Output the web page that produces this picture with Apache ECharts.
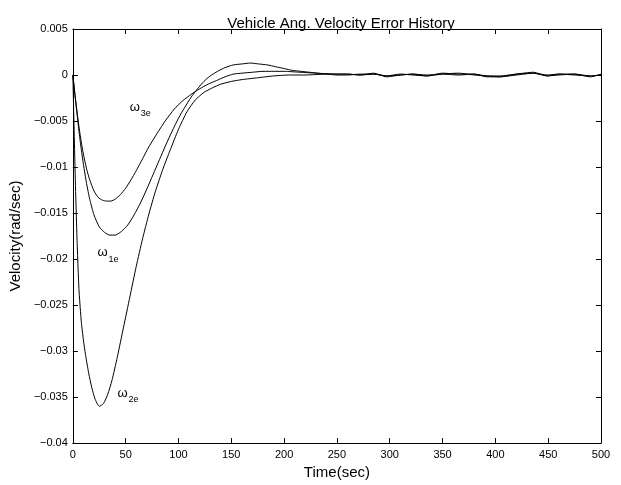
<!DOCTYPE html>
<html>
<head>
<meta charset="utf-8">
<script src="https://cdn.jsdelivr.net/npm/echarts@6/dist/echarts.min.js"></script>
<style>
html,body{margin:0;padding:0;background:#fff;}
#c{width:621px;height:485px;}
</style>
</head>
<body>
<div id="c"></div>
<script>
// ---- data ----
const titleText = 'Vehicle Ang. Velocity Error History';
const xName = 'Time(sec)';
const yName = 'Velocity(rad/sec)';

// omega_1e
const t1 = [0,2,4,6,8,10,13,16,20,25,30,35,40,46,52,58,64,70,76,82,88,94,100,106,112,118,124,130,137,144,152,160,168,176,184,192,200,208,216,224,232,240,250];
const w1 = [0,-0.0022,-0.0043,-0.0063,-0.0081,-0.0097,-0.0118,-0.0135,-0.0152,-0.0165,-0.0171,-0.0174,-0.0174,-0.0170,-0.0163,-0.0152,-0.0139,-0.0124,-0.0108,-0.0092,-0.0076,-0.0061,-0.0047,-0.0035,-0.0024,-0.0015,-0.0007,-0.0001,0.0004,0.0008,0.0011,0.0012,0.0013,0.0012,0.0011,0.0009,0.0007,0.0005,0.0004,0.0003,0.0002,0.0001,0.0001];

// omega_2e
const t2 = [0,1,2,3,4,5,6,8,10,12,15,18,21,25,29,33,37,42,48,54,60,66,72,78,85,92,100,108,116,124,132,140,150,160,175,190,205,220,240,250];
const w2 = [0,-0.005,-0.0098,-0.0142,-0.018,-0.0212,-0.0237,-0.0268,-0.0288,-0.0304,-0.0324,-0.0340,-0.0352,-0.0360,-0.0357,-0.0347,-0.0332,-0.0307,-0.0274,-0.0241,-0.0208,-0.0178,-0.0151,-0.0127,-0.0103,-0.0082,-0.0059,-0.0040,-0.0027,-0.0019,-0.0014,-0.0010,-0.0007,-0.0005,-0.0003,-0.0001,0,0,0.0001,0];

// omega_3e
const t3 = [0,2,4,6,8,10,13,16,20,24,28,32,36,40,45,50,55,60,66,72,80,88,96,104,112,120,128,136,144,152,160,170,180,190,200,215,230,250];
const w3 = [0,-0.0021,-0.0040,-0.0058,-0.0073,-0.0086,-0.0102,-0.0114,-0.0126,-0.0133,-0.0136,-0.0137,-0.0137,-0.0135,-0.0130,-0.0123,-0.0114,-0.0104,-0.0091,-0.0078,-0.0063,-0.0049,-0.0037,-0.0028,-0.0021,-0.0015,-0.0010,-0.0006,-0.0002,0.0001,0.0002,0.0003,0.0004,0.0004,0.0004,0.0003,0.0002,0.0001];

// steady-state wiggle (t > 250)
const tn = [260,272,285,297,310,322,335,350,365,380,392,404,420,436,449,460,475,490,500];
const n1 = [0.0001,0,0.0002,-0.0002,0,0.0001,-0.0001,0.0002,0.0001,0.0001,-0.0002,-0.0002,0.0001,0.0003,-0.0001,0.0001,0.0001,-0.0002,0.0001];
const n2 = [0,0.0001,0.0001,-0.0001,0.0001,0,-0.0001,0.0001,0.0002,0,-0.0001,-0.0002,0,0.0002,0,0.0001,0,-0.0001,0];
const n3 = [0.0001,0,0.0001,-0.0001,0,0.0001,0,0.0001,0,0.0001,-0.0001,-0.0001,0.0001,0.0002,-0.0001,0,0.0001,-0.0001,0];

// label anchors (data coords) and subscripts
const labels = [
  {sub:'1e', at:[28.1,-0.0193]},
  {sub:'2e', at:[47,-0.0346]},
  {sub:'3e', at:[58.6,-0.0035]}
];

const xMin = 0, xMax = 500, xStep = 50;
const yMin = -0.04, yMax = 0.005, yStep = 0.005;

// ---- build ----
function zip(t, v, tt, vv){
  const d = t.map((x,i)=>[x, v[i]]);
  tt.forEach((x,i)=>d.push([x, vv[i]]));
  return d;
}
const FONT = 'Liberation Sans, Arial, Helvetica, sans-serif';
const fmtY = v => {
  const s = String(parseFloat(Number(v).toFixed(4)));
  return s.replace('-', '\u2212');
};
function mk(lbl){
  return {
    symbol:'circle', symbolSize:0, silent:true,
    data:[
      {coord:lbl.at, label:{show:true, formatter:'\u03c9', fontSize:13, color:'#000', fontFamily:FONT, position:'inside'}},
      {coord:lbl.at, label:{show:true, formatter:lbl.sub, fontSize:9, color:'#000', fontFamily:FONT, position:'inside', offset:[11,6.5]}}
    ]
  };
}
const lineSeries = (name, data, lbl) => ({
  name, type:'line', data, showSymbol:false, smooth:0.2,
  lineStyle:{color:'#000', width:1}, animation:false,
  markPoint: mk(lbl)
});

const axisCommon = {
  axisLine:{show:true, onZero:false, lineStyle:{color:'#000', width:1}},
  splitLine:{show:false}
};

const chart = echarts.init(document.getElementById('c'), null, {renderer:'canvas'});
chart.setOption({
  backgroundColor:'#fff',
  animation:false,
  title:{text:titleText, left:336, top:11, textAlign:'center',
    textStyle:{fontSize:15, fontWeight:'normal', color:'#000', fontFamily:FONT}},
  grid:{left:72, right:20, top:29, bottom:39, containLabel:false},
  xAxis:[
    Object.assign({type:'value', min:xMin, max:xMax, interval:xStep, position:'bottom',
      name:xName, nameLocation:'middle', nameGap:18,
      nameTextStyle:{fontSize:15, color:'#000', fontFamily:FONT},
      axisTick:{show:true, inside:true, length:5, lineStyle:{color:'#000'}},
      axisLabel:{color:'#000', fontSize:11, margin:6, fontFamily:FONT}}, axisCommon),
    Object.assign({type:'value', min:xMin, max:xMax, interval:xStep, position:'top',
      axisTick:{show:true, inside:true, length:5, lineStyle:{color:'#000'}},
      axisLabel:{show:false}}, axisCommon)
  ],
  yAxis:[
    Object.assign({type:'value', min:yMin, max:yMax, interval:yStep, position:'left',
      name:yName, nameLocation:'middle', nameGap:46,
      nameTextStyle:{fontSize:15, color:'#000', fontFamily:FONT},
      axisTick:{show:true, inside:true, length:5, lineStyle:{color:'#000'}},
      axisLabel:{color:'#000', fontSize:11, margin:5, fontFamily:FONT, formatter:fmtY}}, axisCommon),
    Object.assign({type:'value', min:yMin, max:yMax, interval:yStep, position:'right',
      axisTick:{show:true, inside:true, length:5, lineStyle:{color:'#000'}},
      axisLabel:{show:false}}, axisCommon)
  ],
  series:[
    lineSeries('w1e', zip(t1,w1,tn,n1), labels[0]),
    lineSeries('w2e', zip(t2,w2,tn,n2), labels[1]),
    lineSeries('w3e', zip(t3,w3,tn,n3), labels[2])
  ]
});
</script>
</body>
</html>
